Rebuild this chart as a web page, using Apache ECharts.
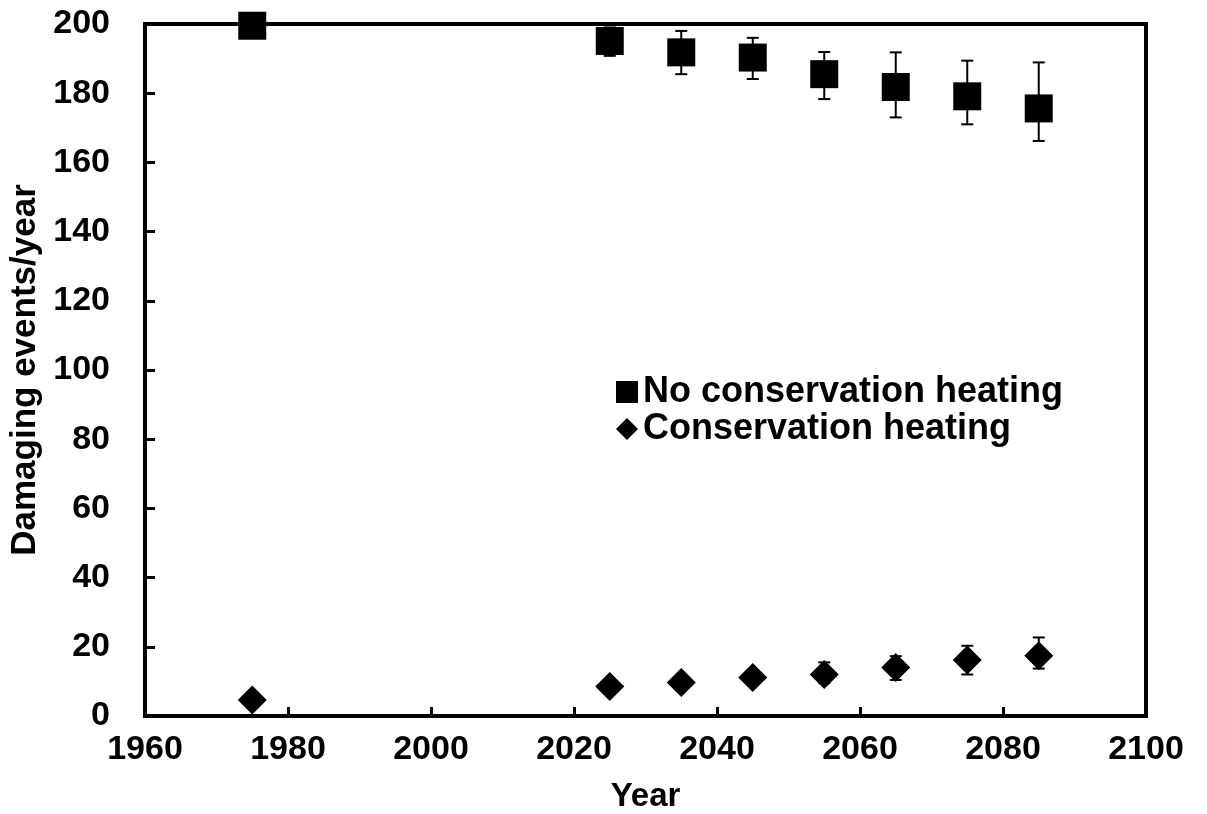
<!DOCTYPE html>
<html>
<head>
<meta charset="utf-8">
<script src="https://cdn.jsdelivr.net/npm/echarts@6/dist/echarts.min.js"></script>
<style>
html,body{margin:0;padding:0;background:#fff;}
#c{width:1207px;height:814px;}
</style>
</head>
<body>
<div id="c"></div>
<script>
// ---- data ----
const years = [1975, 2025, 2035, 2045, 2055, 2065, 2075, 2085];
const noHeating = [199.5, 195.1, 191.8, 190.3, 185.5, 181.8, 179.1, 175.6];
const noHeatingLow = [199.5, 190.8, 185.5, 184.1, 178.3, 173.0, 171.0, 166.2];
const noHeatingHigh = [199.5, 199.0, 198.0, 196.0, 191.9, 191.8, 189.4, 188.9];
const heating = [4.6, 8.5, 9.7, 11.1, 12.0, 14.0, 16.2, 17.4];
const heatingLow = [4.6, 7.0, 8.0, 9.3, 9.5, 10.4, 12.0, 13.7];
const heatingHigh = [4.6, 10.0, 11.4, 12.9, 15.5, 17.3, 20.3, 22.7];
const yTicks = [0, 20, 40, 60, 80, 100, 120, 140, 160, 180, 200];
const xTicks = [1960, 1980, 2000, 2020, 2040, 2060, 2080, 2100];

const FONT = '"Liberation Sans", Arial, sans-serif';

function errData(lo, hi) {
  return years.map((y, i) => [y, lo[i], hi[i]]);
}
function renderErr(params, api) {
  const x = api.value(0);
  const p1 = api.coord([x, api.value(1)]);
  const p2 = api.coord([x, api.value(2)]);
  const cap = 6;
  const st = { stroke: '#000', lineWidth: 2 };
  return {
    type: 'group',
    children: [
      { type: 'line', shape: { x1: p1[0], y1: p1[1], x2: p2[0], y2: p2[1] }, style: st },
      { type: 'line', shape: { x1: p1[0] - cap, y1: p1[1], x2: p1[0] + cap, y2: p1[1] }, style: st },
      { type: 'line', shape: { x1: p2[0] - cap, y1: p2[1], x2: p2[0] + cap, y2: p2[1] }, style: st }
    ]
  };
}

const chart = echarts.init(document.getElementById('c'), null, { renderer: 'canvas' });
chart.setOption({
  animation: false,
  backgroundColor: '#fff',
  grid: { left: 145, right: 61, top: 24, bottom: 98, show: true, borderColor: '#000', borderWidth: 4, containLabel: false, outerBoundsMode: 'none' },
  legend: {
    orient: 'vertical',
    left: 611,
    top: 369,
    itemWidth: 22,
    itemHeight: 22,
    itemGap: 1,
    selectedMode: false,
    textStyle: { fontFamily: FONT, fontWeight: 'bold', fontSize: 36, color: '#000', padding: [0, 0, 0, 0] },
    data: [
      { name: 'No conservation heating', icon: 'rect' },
      { name: 'Conservation heating', icon: 'diamond' }
    ]
  },
  xAxis: {
    type: 'value',
    min: xTicks[0],
    max: xTicks[xTicks.length - 1],
    interval: 20,
    name: 'Year',
    nameLocation: 'middle',
    nameGap: 64,
    nameTextStyle: { fontFamily: FONT, fontWeight: 'bold', fontSize: 33, color: '#000' },
    axisLine: { show: true, lineStyle: { color: '#000', width: 4 } },
    axisTick: { show: true, inside: true, length: 9, lineStyle: { color: '#000', width: 3 } },
    axisLabel: { margin: 17, fontFamily: FONT, fontWeight: 'bold', fontSize: 34, color: '#000', formatter: v => String(v) },
    splitLine: { show: false }
  },
  yAxis: {
    type: 'value',
    min: yTicks[0],
    max: yTicks[yTicks.length - 1],
    interval: 20,
    name: 'Damaging events/year',
    nameLocation: 'middle',
    nameGap: 100,
    nameTextStyle: { fontFamily: FONT, fontWeight: 'bold', fontSize: 35, color: '#000' },
    axisLine: { show: true, lineStyle: { color: '#000', width: 4 } },
    axisTick: { show: true, inside: true, length: 10, lineStyle: { color: '#000', width: 3 } },
    axisLabel: { margin: 35, fontFamily: FONT, fontWeight: 'bold', fontSize: 34, color: '#000', formatter: v => String(v) },
    splitLine: { show: false }
  },
  series: [
    {
      type: 'custom', name: 'errNo', renderItem: renderErr, data: errData(noHeatingLow, noHeatingHigh),
      z: 1, silent: true, clip: false, encode: { x: 0, y: [1, 2] }
    },
    {
      type: 'custom', name: 'errHeat', renderItem: renderErr, data: errData(heatingLow, heatingHigh),
      z: 1, silent: true, clip: false, encode: { x: 0, y: [1, 2] }
    },
    {
      name: 'No conservation heating', type: 'scatter', symbol: 'rect', symbolSize: 28,
      itemStyle: { color: '#000', opacity: 1 }, z: 3, clip: false,
      data: years.map((y, i) => [y, noHeating[i]])
    },
    {
      name: 'Conservation heating', type: 'scatter', symbol: 'diamond', symbolSize: 29,
      itemStyle: { color: '#000', opacity: 1 }, z: 3, clip: false,
      data: years.map((y, i) => [y, heating[i]])
    }
  ]
});
</script>
</body>
</html>
